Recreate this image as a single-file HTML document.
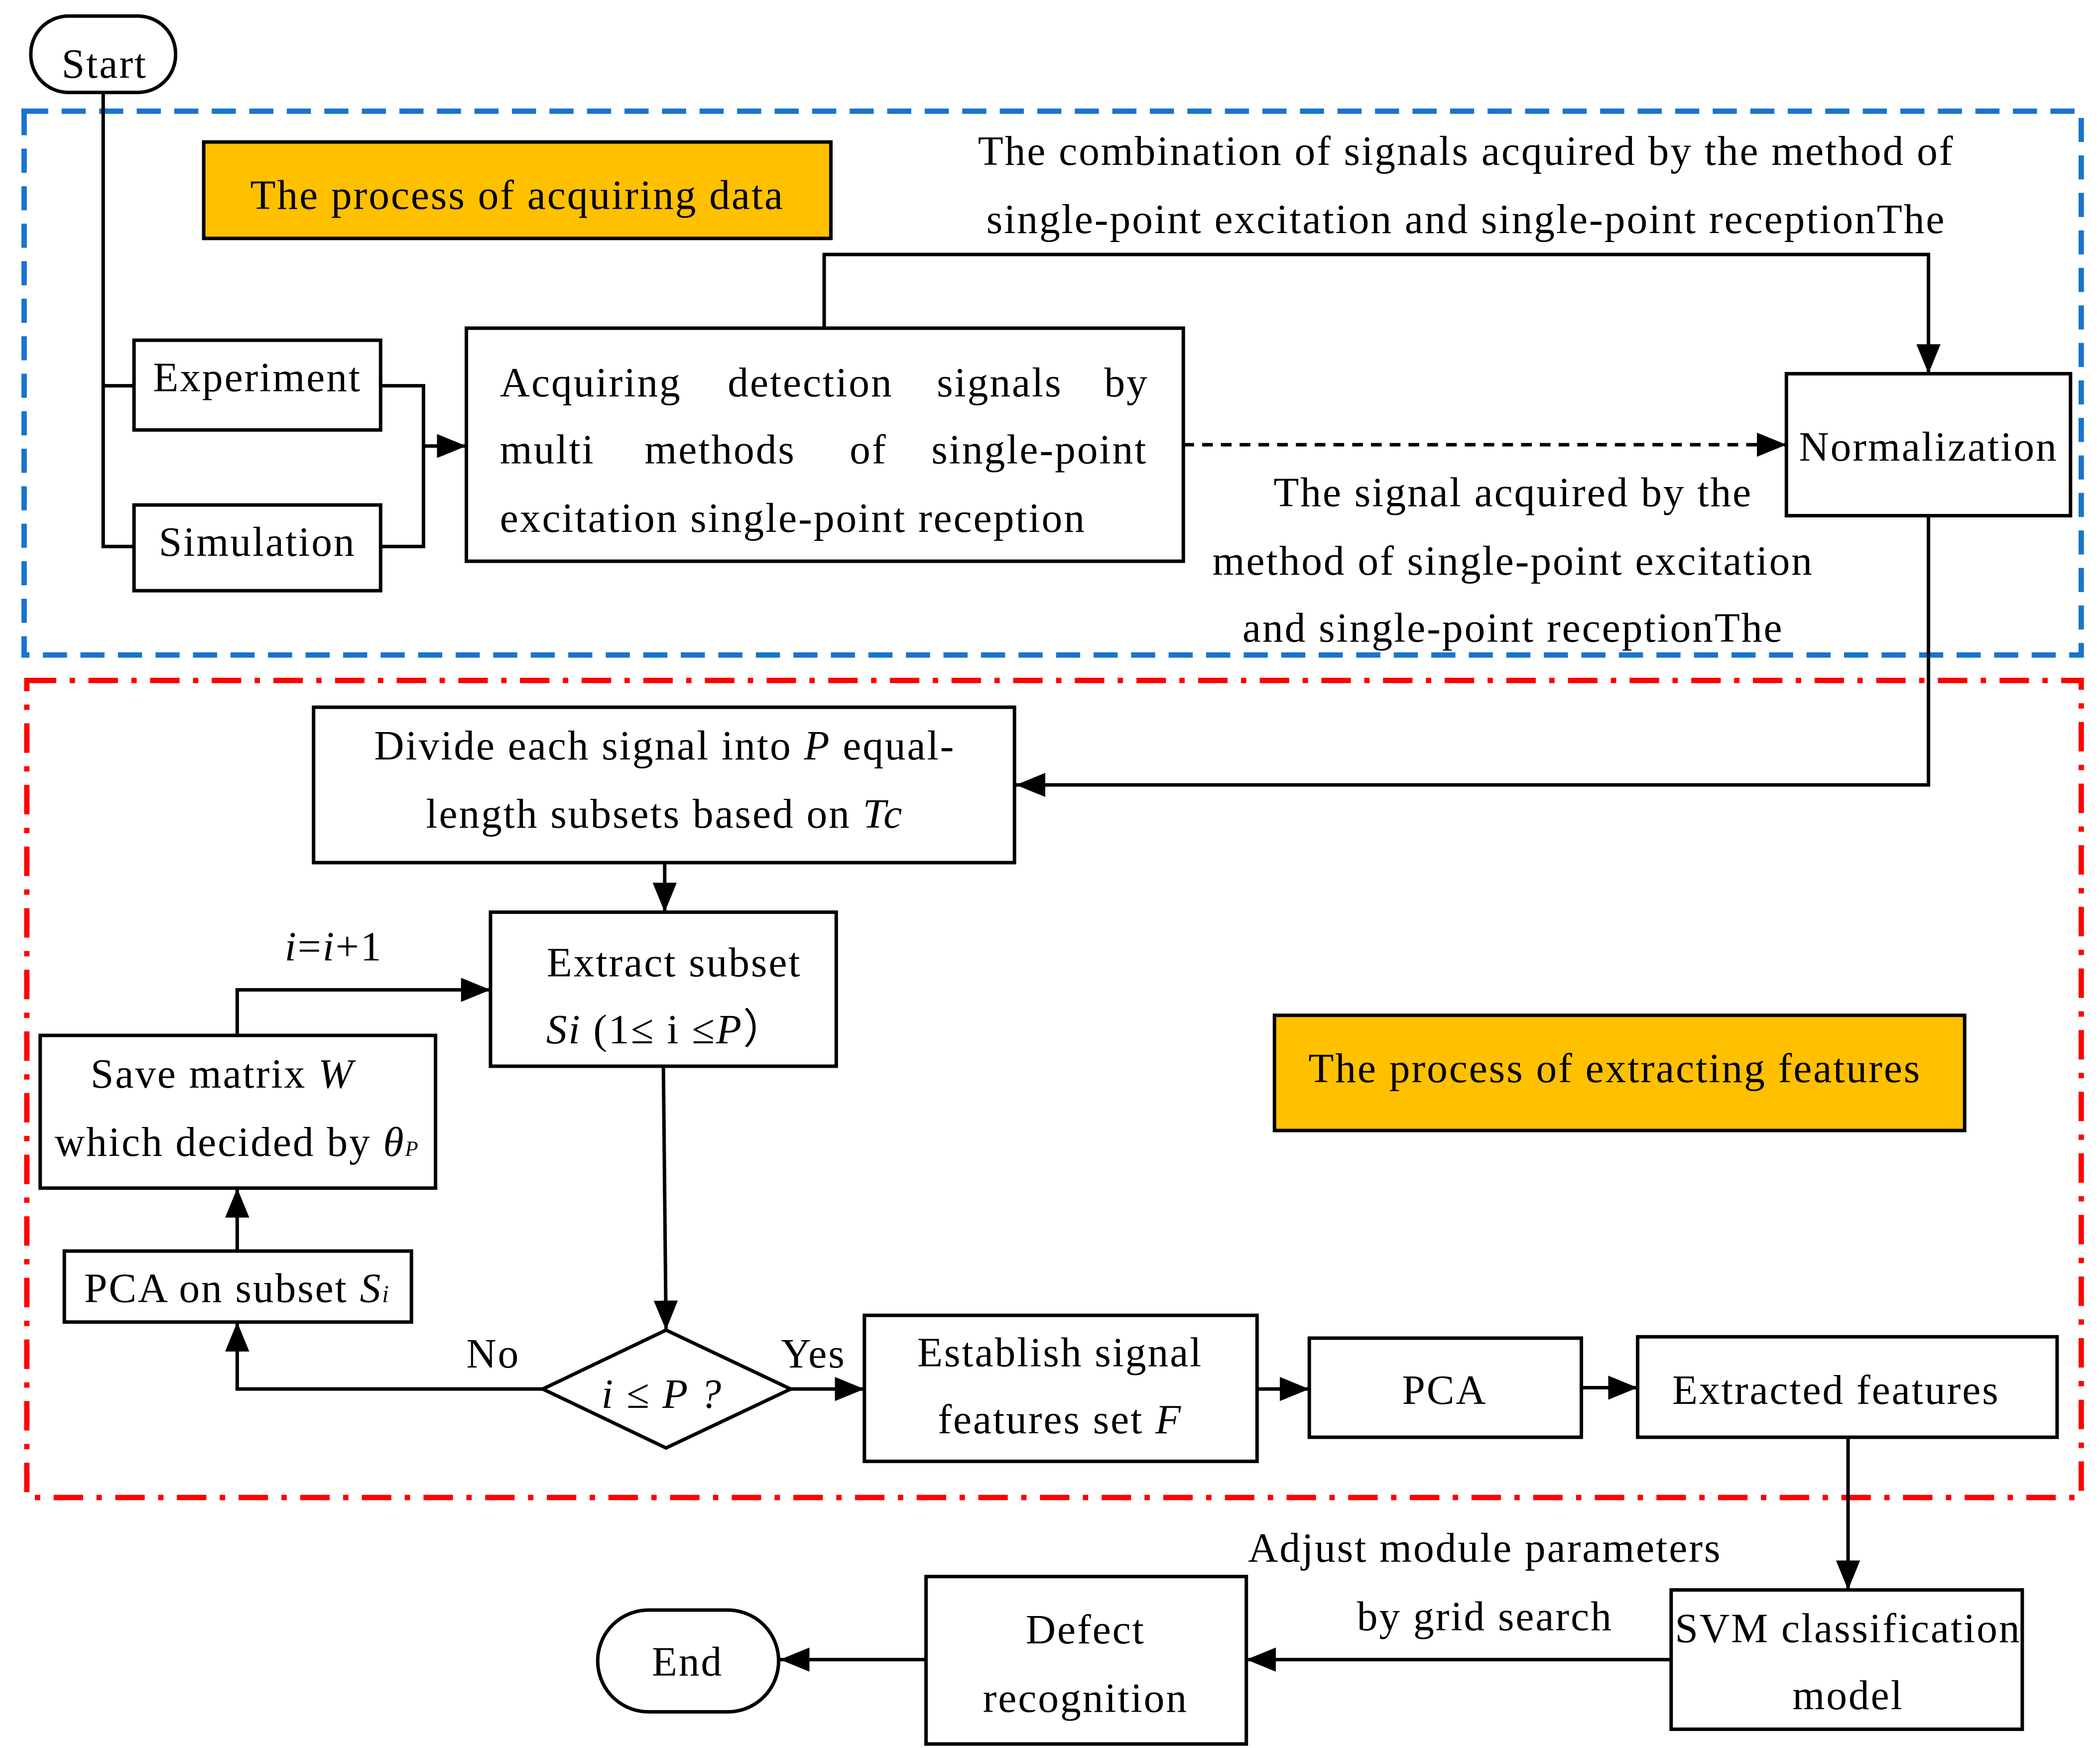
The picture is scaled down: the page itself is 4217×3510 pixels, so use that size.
<!DOCTYPE html>
<html><head><meta charset="utf-8"><style>
html,body{margin:0;padding:0;background:#fff}
svg{display:block}
text{font-family:"Liberation Serif",serif;font-size:31px;letter-spacing:1.1px;fill:#000}
.b{fill:#fff;stroke:#000;stroke-width:2.6}
.l{fill:none;stroke:#000;stroke-width:2.6}
</style></head><body>
<svg width="4217" height="3510" viewBox="0 0 1567 1305" preserveAspectRatio="none" xmlns="http://www.w3.org/2000/svg">
<defs>
<marker id="A" viewBox="0 0 10 10" refX="10" refY="5" markerWidth="22" markerHeight="18" markerUnits="userSpaceOnUse" orient="auto" preserveAspectRatio="none"><path d="M0,0L10,5L0,10z" fill="#000"/></marker></defs>

<rect x="18" y="83" width="1535" height="406" fill="none" stroke="#1874CD" stroke-width="4" stroke-dasharray="18,10"/>
<rect x="20" y="508" width="1533" height="610" fill="none" stroke="#FF0000" stroke-width="4" stroke-dasharray="22,10,4,10"/>

<rect x="23" y="12" width="108" height="57" rx="28" class="b"/>
<text x="78" y="58" text-anchor="middle">Start</text>

<rect x="152" y="106" width="468" height="72" fill="#FFC000" stroke="#000" stroke-width="2.6"/>
<text x="386" y="156" text-anchor="middle">The process of acquiring data</text>
<text x="1094" y="123" text-anchor="middle">The combination of signals acquired by the method of</text>
<text x="1094" y="174" text-anchor="middle">single-point excitation and single-point receptionThe</text>

<path d="M77,69V408H100M77,288H100" class="l"/>
<rect x="100" y="254" width="184" height="67" class="b"/>
<text x="192" y="292" text-anchor="middle">Experiment</text>
<rect x="100" y="377" width="184" height="64" class="b"/>
<text x="192" y="415" text-anchor="middle">Simulation</text>
<path d="M284,288H316V408H284" class="l"/>
<path d="M316,333H348" class="l" marker-end="url(#A)"/>

<rect x="348" y="245" width="535" height="174" class="b"/>
<text x="373" y="296">Acquiring</text><text x="543" y="296">detection</text><text x="699" y="296">signals</text><text x="824" y="296">by</text>
<text x="373" y="346">multi</text><text x="481" y="346">methods</text><text x="634" y="346">of</text><text x="695" y="346">single-point</text>
<text x="373" y="397">excitation single-point reception</text>

<path d="M615,245V190H1439V279" class="l" marker-end="url(#A)"/>
<path d="M883,332H1333" class="l" stroke-dasharray="8,6" marker-end="url(#A)"/>
<rect x="1333" y="279" width="212" height="106" class="b"/>
<text x="1439" y="344" text-anchor="middle">Normalization</text>
<text x="1129" y="378" text-anchor="middle">The signal acquired by the</text>
<text x="1129" y="429" text-anchor="middle">method of single-point excitation</text>
<text x="1129" y="479" text-anchor="middle">and single-point receptionThe</text>

<path d="M1439,385V586H758" class="l" marker-end="url(#A)"/>
<rect x="234" y="528" width="523" height="116" class="b"/>
<text x="496" y="567" text-anchor="middle">Divide each signal into <tspan font-style="italic">P</tspan> equal-</text>
<text x="496" y="618" text-anchor="middle">length subsets based on <tspan font-style="italic">Tc</tspan></text>
<path d="M496,644V681" class="l" marker-end="url(#A)"/>

<rect x="366" y="681" width="258" height="115" class="b"/>
<text x="503" y="729" text-anchor="middle">Extract subset</text>
<text x="497" y="779" text-anchor="middle"><tspan font-style="italic">Si</tspan> (1≤ i ≤<tspan font-style="italic">P</tspan>）</text>
<path d="M495,796L497,993" class="l" marker-end="url(#A)"/>

<path d="M497,993L590,1037L497,1081L405,1037Z" class="b"/>
<text x="494" y="1051" text-anchor="middle" font-style="italic">i ≤ P ?</text>
<text x="607" y="1021" text-anchor="middle">Yes</text>
<text x="368" y="1021" text-anchor="middle">No</text>
<path d="M590,1037H645" class="l" marker-end="url(#A)"/>

<rect x="645" y="982" width="293" height="109" class="b"/>
<text x="791" y="1020" text-anchor="middle">Establish signal</text>
<text x="791" y="1070" text-anchor="middle">features set <tspan font-style="italic">F</tspan></text>
<path d="M938,1037H977" class="l" marker-end="url(#A)"/>
<rect x="977" y="999" width="203" height="74" class="b"/>
<text x="1078" y="1048" text-anchor="middle">PCA</text>
<path d="M1180,1036H1222" class="l" marker-end="url(#A)"/>
<rect x="1222" y="998" width="313" height="75" class="b"/>
<text x="1370" y="1048" text-anchor="middle">Extracted features</text>
<path d="M1379,1073V1187" class="l" marker-end="url(#A)"/>

<rect x="1247" y="1187" width="262" height="104" class="b"/>
<text x="1379" y="1226" text-anchor="middle">SVM classification</text>
<text x="1379" y="1276" text-anchor="middle">model</text>
<text x="1108" y="1166" text-anchor="middle">Adjust module parameters</text>
<text x="1108" y="1217" text-anchor="middle">by grid search</text>
<path d="M1247,1239H930" class="l" marker-end="url(#A)"/>
<rect x="691" y="1177" width="239" height="125" class="b"/>
<text x="810" y="1227" text-anchor="middle">Defect</text>
<text x="810" y="1278" text-anchor="middle">recognition</text>
<path d="M691,1239H582" class="l" marker-end="url(#A)"/>
<rect x="446" y="1202" width="135" height="76" rx="38" class="b"/>
<text x="513" y="1251" text-anchor="middle">End</text>

<path d="M405,1037H177V987" class="l" marker-end="url(#A)"/>
<rect x="48" y="934" width="259" height="53" class="b"/>
<text x="177" y="972" text-anchor="middle">PCA on subset <tspan font-style="italic">S</tspan><tspan font-style="italic" font-size="18">i</tspan></text>
<path d="M177,934V887" class="l" marker-end="url(#A)"/>
<rect x="30" y="773" width="295" height="114" class="b"/>
<text x="166" y="812" text-anchor="middle">Save matrix  <tspan font-style="italic">W</tspan></text>
<text x="177" y="863" text-anchor="middle">which decided by <tspan font-style="italic">θ</tspan><tspan font-style="italic" font-size="16">P</tspan></text>
<path d="M177,773V739H366" class="l" marker-end="url(#A)"/>
<text x="249" y="717" text-anchor="middle"><tspan font-style="italic">i</tspan>=<tspan font-style="italic">i</tspan>+1</text>

<rect x="951" y="758" width="515" height="86" fill="#FFC000" stroke="#000" stroke-width="2.6"/>
<text x="1205" y="808" text-anchor="middle">The process of extracting features</text>
</svg>
</body></html>
